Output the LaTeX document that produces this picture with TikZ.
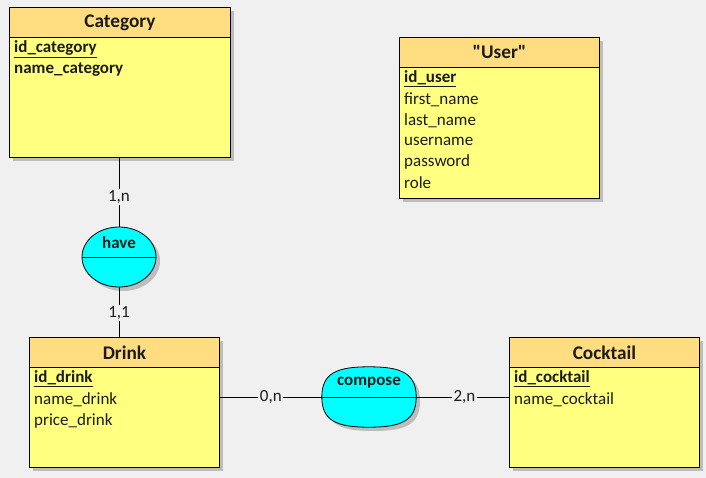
\documentclass[tikz,border=0pt]{standalone}
\usepackage{fontspec}
\setmainfont{Carlito}
\usetikzlibrary{shapes.geometric,calc}
\definecolor{bg}{HTML}{F0F0F0}
\definecolor{hdr}{HTML}{FFDD80}
\definecolor{bdy}{HTML}{FFFF80}
\definecolor{shd}{HTML}{BDBDBD}
\definecolor{asc}{HTML}{00FFFF}
\definecolor{txt}{HTML}{1C1C1C}
\newcommand{\sq}{\XeTeXglyph\XeTeXcharglyph"0022\relax}
\begin{document}
\begin{tikzpicture}[x=1pt,y=-1pt,
  bodybox/.style={draw=black, line width=0.9pt, fill=bdy, anchor=north west, inner sep=0pt},
  hdrbox/.style={draw=black, line width=0.9pt, fill=hdr, anchor=north west, inner sep=0pt, minimum height=30pt, text=txt, font=\fontsize{19.3}{21}\selectfont\bfseries},
  attr/.style={anchor=west, inner sep=0pt, text=txt, font=\fontsize{17}{19}\selectfont},
  keyattr/.style={attr, font=\fontsize{17}{19}\selectfont\bfseries},
  assoc/.style={draw=black, line width=0.8pt, fill=asc, inner sep=0pt},
  asctext/.style={inner sep=0pt, text=txt, font=\fontsize{17}{19}\selectfont\bfseries},
  card/.style={fill=bg, inner sep=1.5pt, text=txt, font=\fontsize{17}{19}\selectfont},
  link/.style={draw=black, line width=0.8pt}
]
\fill[bg] (0,0) rectangle (706,478);
\useasboundingbox (0,0) rectangle (706,478);

% Category
\fill[shd] (13,11) rectangle (234,161);
\node[bodybox, minimum width=221pt, minimum height=150pt] (cat) at (9,7) {};
\node[hdrbox, minimum width=221pt] (cath) at (9,7) {Category};
\node[keyattr] (cat1) at (14,49) {\underline{id\_category}};
\node[keyattr] (cat2) at (14,70) {name\_category};

% User
\fill[shd] (403,41) rectangle (603,202);
\node[bodybox, minimum width=200pt, minimum height=161pt] (usr) at (399,37) {};
\node[hdrbox, minimum width=200pt] (usrh) at (399,37) {\sq User\sq};
\node[keyattr] (u1) at (404,79) {\underline{id\_user}};
\node[attr] (u2) at (404,100) {first\_name};
\node[attr] (u3) at (404,121) {last\_name};
\node[attr] (u4) at (404,141) {username};
\node[attr] (u5) at (404,162) {password};
\node[attr] (u6) at (404,183) {role};

% Drink
\fill[shd] (33,341) rectangle (223,471);
\node[bodybox, minimum width=190pt, minimum height=130pt] (drink) at (29,337) {};
\node[hdrbox, minimum width=190pt] (drinkh) at (29,337) {Drink};
\node[keyattr] (d1) at (34,379) {\underline{id\_drink}};
\node[attr] (d2) at (34,400) {name\_drink};
\node[attr] (d3) at (34,421) {price\_drink};

% Cocktail
\fill[shd] (513,341) rectangle (703,471);
\node[bodybox, minimum width=190pt, minimum height=130pt] (cock) at (509,337) {};
\node[hdrbox, minimum width=190pt] (cockh) at (509,337) {Cocktail};
\node[keyattr] (c1) at (514,379) {\underline{id\_cocktail}};
\node[attr] (c2) at (514,400) {name\_cocktail};

% have
\fill[shd] (123,261) ellipse [x radius=37, y radius=30];
\node[assoc, ellipse, minimum width=74pt, minimum height=60pt] (have) at (119,257) {};
\draw[line width=0.8pt] (have.west) -- (have.east);
\node[asctext] (havet) at (119,243) {have};

% compose (superellipse-like shape)
\node[rectangle, inner sep=0pt, minimum width=94pt, minimum height=60pt] (comp) at (369,397) {};
\fill[shd, shift={(4,4)}] (322,397) .. controls (322,373) and (337,367) .. (369,367)
  .. controls (401,367) and (416,373) .. (416,397)
  .. controls (416,421) and (401,427) .. (369,427)
  .. controls (337,427) and (322,421) .. (322,397) -- cycle;
\draw[assoc] (comp.west) .. controls ($(comp.west)+(0,-24)$) and ($(comp.north)+(-32,0)$) .. (comp.north)
  .. controls ($(comp.north)+(32,0)$) and ($(comp.east)+(0,-24)$) .. (comp.east)
  .. controls ($(comp.east)+(0,24)$) and ($(comp.south)+(32,0)$) .. (comp.south)
  .. controls ($(comp.south)+(-32,0)$) and ($(comp.west)+(0,24)$) .. (comp.west) -- cycle;
\draw[line width=0.8pt] (comp.west) -- (comp.east);
\node[asctext] (compt) at (369,383) {compose};

% links
\draw[link] (have.north |- cat.south) -- (have.north) node[card, pos=0.57] {1,n};
\draw[link] (have.south) -- (have.south |- drink.north) node[card, pos=0.52] {1,1};
\draw[link] (comp.west -| drink.east) -- (comp.west) node[card, midway] {0,n};
\draw[link] (comp.east) -- (comp.east -| cock.west) node[card, pos=0.52] {2,n};
\end{tikzpicture}
\end{document}
